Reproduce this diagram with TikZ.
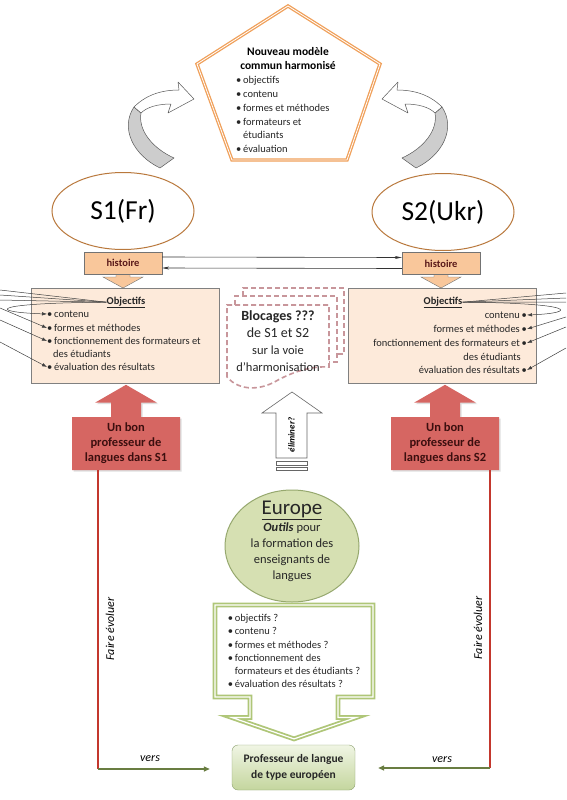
\documentclass[tikz,border=0pt]{standalone}
\usepackage{fontspec}
\setmainfont{Carlito}
\usetikzlibrary{arrows.meta,shapes.geometric,shapes.arrows,shadows}

\begin{document}
\begin{tikzpicture}[x=1pt, y=-1pt,
    every node/.style={inner sep=0pt},
    txt/.style={font=\fontsize{10.5}{13.6}\selectfont, text=black!85},
    titre/.style={font=\fontsize{10.5}{12}\selectfont\bfseries, text=black!85},
    sysellipse/.style={ellipse, draw=sysborder, line width=1pt, fill=white,
        minimum width=142pt, minimum height=77pt, font=\fontsize{27.5}{30}\selectfont},
    histbox/.style={draw=black!55, fill=histfill, minimum width=78pt, minimum height=22pt,
        font=\fontsize{10.5}{12}\selectfont\bfseries, text=histtext},
    histtail/.style={draw=black!55, fill=histfill, line width=0.4pt},
    objbox/.style={draw=black!50, fill=objfill, minimum width=188pt, minimum height=95pt},
    bonbox/.style={arrow box, fill=bonfill, minimum width=108pt, minimum height=53pt,
        arrow box arrows={north:32pt from border}, arrow box shaft width=30pt,
        arrow box head extend=16pt, arrow box tip angle=120,
        drop shadow={shadow xshift=1.5pt, shadow yshift=-1.5pt, fill=black!25},
        align=center, font=\fontsize{12.5}{15}\selectfont\bfseries, text=bontext},
    link/.style={draw=black!75, line width=0.5pt},
    linkarrow/.style={link, -{Latex[length=5pt,width=3.5pt]}},
    histarrow/.style={draw=black!80, line width=0.6pt, -{Stealth[length=7pt,width=3pt]}},
    redrule/.style={draw=ruleRed, line width=1.2pt},
    versarrow/.style={draw=versgreen, line width=1.3pt, -{Triangle[length=6pt,width=5pt]}},
    bloqdash/.style={draw=bloqrose, line width=1.6pt, dash pattern=on 5pt off 3pt},
    ribbon/.style={draw=black!65, line width=0.5pt, line join=round}
]

    % Colors
    \definecolor{pentorange}{RGB}{240,160,90}
    \definecolor{sysborder}{RGB}{185,120,60}
    \definecolor{histfill}{RGB}{249,199,155}
    \definecolor{histtext}{RGB}{90,25,25}
    \definecolor{objfill}{RGB}{253,234,218}
    \definecolor{bloqrose}{RGB}{200,150,155}
    \definecolor{bonfill}{RGB}{214,102,98}
    \definecolor{bontext}{RGB}{60,15,15}
    \definecolor{eurofill}{RGB}{214,224,178}
    \definecolor{eurodraw}{RGB}{150,168,110}
    \definecolor{boxgreen}{RGB}{175,198,120}
    \definecolor{proftop}{RGB}{240,245,228}
    \definecolor{profbottom}{RGB}{196,214,158}
    \definecolor{profdraw}{RGB}{140,160,110}
    \definecolor{ruleRed}{RGB}{195,55,45}
    \definecolor{versgreen}{RGB}{105,125,65}
    \definecolor{ribbongray}{RGB}{205,205,205}

    \useasboundingbox (0,0) rectangle (566,800);
    \fill[white] (0,0) rectangle (566,800);

    % Pentagon (new common model)
    \draw[pentorange, fill=white, line width=1.3pt, double=white, double distance=0.8pt]
        (288,6) -- (380,64) -- (347,160) -- (232,160) -- (197,64) -- cycle;
    \node[font=\fontsize{11.5}{14}\selectfont\bfseries, align=center] (modele) at (288,59)
        {Nouveau modèle\\commun harmonisé};
    \node[txt, font=\fontsize{10.5}{13.8}\selectfont, anchor=west, align=left] (modeleliste) at (236,114.5)
        {\textbullet\,objectifs\\\textbullet\,contenu\\\textbullet\,formes et méthodes\\
         \textbullet\,formateurs et\\\hphantom{\textbullet\,}étudiants\\\textbullet\,évaluation};

    % Curved arrows (left, then mirrored right)
    \foreach \s/\o in {1/0,-1/576}{
      \begin{scope}[shift={(\o,0)}, xscale=\s]
        \draw[ribbon, fill=ribbongray] (134,107) .. controls (120,128) and (133,155) .. (160,168)
            -- (174,158) .. controls (152,148) and (138,130) .. (141,113) -- cycle;
        \draw[ribbon, fill=white] (134,107) .. controls (148,93) and (165,90) .. (179,90)
            -- (178,82) -- (194,99) -- (168,113) -- (171,104)
            .. controls (158,104) and (147,107) .. (141,113) -- cycle;
      \end{scope}
    }

    % Systems
    \node[sysellipse] (s1) at (123,211) {S1(Fr)};
    \node[sysellipse] (s2) at (443,212) {S2(Ukr)};

    % Objectives boxes
    \node[objbox] (objL) at (125,335.5) {};
    \node[objbox] (objR) at (442.5,336) {};

    % histoire
    \draw[histtail] (116,270) -- (116,277) -- (103,277) -- (123,288) -- (143,277) -- (130,277) -- (130,270);
    \draw[histtail] (434,270) -- (434,277) -- (421,277) -- (441,288) -- (461,277) -- (448,277) -- (448,270);
    \node[histbox] (histL) at (123,263) {histoire};
    \node[histbox] (histR) at (441,263.5) {histoire};
    \draw[histarrow] ([yshift=6pt]histL.east) -- ([yshift=6pt]histR.west);
    \draw[histarrow] ([yshift=-5pt]histR.west) -- ([yshift=-5pt]histL.east);

    % Left objectives
    \node[titre, anchor=base] (titL) at (126,304) {\underline{Objectifs}};
    \node[txt, anchor=west] (L1) at (47,314) {\textbullet\,contenu};
    \node[txt, anchor=west] (L2) at (47,328) {\textbullet\,formes et méthodes};
    \node[txt, anchor=west] (L3) at (47,341) {\textbullet\,fonctionnement des formateurs et};
    \node[txt, anchor=west] (L3b) at (53,354) {des étudiants};
    \node[txt, anchor=west] (L4) at (47,367) {\textbullet\,évaluation des résultats};

    % Right objectives
    \node[titre, anchor=base] (titR) at (443,304) {\underline{Objectifs}};
    \node[txt, anchor=east] (R1) at (527,315) {contenu\,\textbullet};
    \node[txt, anchor=east] (R2) at (527,329) {formes et méthodes\,\textbullet};
    \node[txt, anchor=east] (R3) at (527,343) {fonctionnement des formateurs et\,\textbullet};
    \node[txt, anchor=east] (R3b) at (521,357) {des étudiants};
    \node[txt, anchor=east] (R4) at (527,370) {évaluation des résultats\,\textbullet};

    % Lines from the edges
    \coordinate (eL1) at (0,290);
    \coordinate (eL2) at (0,295);
    \coordinate (eL3) at (0,300);
    \coordinate (eL4) at (0,308);
    \coordinate (eL5) at (0,320);
    \coordinate (eL6) at (0,342);
    \coordinate (eR1) at (566,293);
    \coordinate (eR2) at (566,298);
    \coordinate (eR3) at (566,302);
    \coordinate (eR4) at (566,317);
    \coordinate (eR5) at (566,327);
    \coordinate (eR6) at (566,348);
    \draw[link] (eL1) -- (titL.west);
    \draw[link] (eL2) -- (titL.west);
    \draw[link] (eL3) -- (titL.west);
    \draw[linkarrow] (titL.west) .. controls (-12,303) and (-12,312) .. (L1.west);
    \draw[linkarrow] (eL4) -- (L2.west);
    \draw[linkarrow] (eL5) -- (L3.west);
    \draw[linkarrow] (eL6) -- (L4.west);
    \draw[link] (eR1) -- (titR.east);
    \draw[link] (eR2) -- (titR.east);
    \draw[link] (eR3) -- (titR.east);
    \draw[linkarrow] (titR.east) .. controls (578,303) and (578,313) .. (R1.east);
    \draw[linkarrow] (eR4) -- (R2.east);
    \draw[linkarrow] (eR5) -- (R3.east);
    \draw[linkarrow] (eR6) -- (R4.east);

    % Blocages (dashed documents)
    \draw[bloqdash] (243,296) -- (243,288) -- (344,288) -- (344,354) -- (337,354);
    \draw[bloqdash] (235,305) -- (235,296) -- (337,296) -- (337,362) -- (329,362);
    \draw[bloqdash] (227,377) -- (227,305) -- (329,305) -- (329,367)
        .. controls (312,366) and (295,371) .. (278,380) .. controls (262,390) and (240,392) .. (227,377);
    \node[align=center, font=\fontsize{14}{17}\selectfont, text=black!85] (bloc) at (278,341)
        {\textbf{Blocages ???}\\de S1 et S2\\{\fontsize{12.5}{17}\selectfont sur la voie}\\{\fontsize{12.5}{17}\selectfont d’harmonisation}};

    % Hollow arrow
    \draw[draw=black!60, fill=white, line width=0.6pt]
        (276,458) -- (276,413) -- (262,413) -- (292,392) -- (322,413) -- (307,413) -- (307,458) -- cycle;
    \draw[draw=black!60, line width=0.6pt] (276,461) rectangle (307,465);
    \draw[draw=black!60, line width=0.6pt] (276,467) rectangle (307,470);
    \node[rotate=90, font=\fontsize{9}{10}\selectfont\bfseries\itshape] (elim) at (291.5,435) {éliminer?};

    % Red callouts
    \node[bonbox] (bonL) at (126,443.5) {Un bon\\professeur de\\langues dans S1};
    \node[bonbox] (bonR) at (445,443.5) {Un bon\\professeur de\\langues dans S2};

    % Europe
    \node[ellipse, draw=eurodraw, fill=eurofill, line width=1pt, minimum width=134pt, minimum height=112pt]
        (europe) at (292,546) {};
    \node[anchor=base, font=\fontsize{21}{24}\selectfont, text=black!85] (europetitre) at (292,514) {\underline{Europe}};
    \node[align=center, font=\fontsize{12.5}{16}\selectfont, text=black!85] (outils) at (292,552)
        {\textbf{\textit{Outils}} pour\\la formation des\\enseignants de\\langues};

    % Questions box
    \node[arrow box, draw=boxgreen, fill=white, line width=1.8pt, double=white, double distance=1.2pt,
        minimum width=158pt, minimum height=92pt,
        arrow box arrows={south:41pt from border}, arrow box shaft width=88pt,
        arrow box head extend=18pt, arrow box tip angle=142,
        align=left, font=\fontsize{10.5}{13.2}\selectfont, text=black!85] (questions) at (294,651)
        {\textbullet\,objectifs ?\\\textbullet\,contenu ?\\\textbullet\,formes et méthodes ?\\
         \textbullet\,fonctionnement des\\\hphantom{\textbullet\,}formateurs et des étudiants ?\\
         \textbullet\,évaluation des résultats ?};

    % European teacher
    \node[draw=profdraw, rounded corners=6pt, top color=proftop, bottom color=profbottom,
        minimum width=123pt, minimum height=45pt, align=center,
        font=\fontsize{11.5}{16}\selectfont\bfseries, text=black!85] (prof) at (293.5,767.5)
        {Professeur de langue\\de type européen};

    % Faire evoluer / vers
    \coordinate (coinL) at (98,769);
    \coordinate (coinR) at (490,768);
    \draw[redrule] (bonL.south -| coinL) -- (coinL);
    \draw[redrule] (bonR.south -| coinR) -- (coinR);
    \draw[versarrow, shorten >=22pt] (coinL) -- (coinL -| prof.west);
    \draw[versarrow, shorten >=23pt] (coinR) -- (coinR -| prof.east);
    \node[rotate=90, font=\fontsize{12}{14}\selectfont\itshape] (evolL) at (110,629) {Faire évoluer};
    \node[rotate=90, font=\fontsize{12}{14}\selectfont\itshape] (evolR) at (478,628) {Faire évoluer};
    \node[font=\fontsize{12}{14}\selectfont\itshape] (versL) at (150,759) {vers};
    \node[font=\fontsize{12}{14}\selectfont\itshape] (versR) at (442,760) {vers};

\end{tikzpicture}
\end{document}
